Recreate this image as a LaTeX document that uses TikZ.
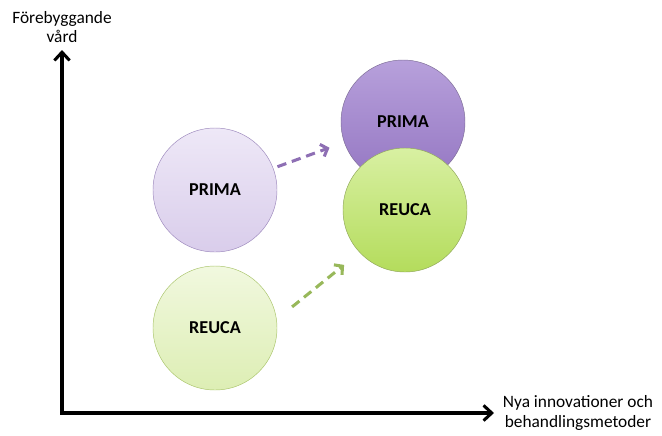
\documentclass[tikz,border=0pt]{standalone}
\usepackage{fontspec}
\setmainfont{Carlito}
\usetikzlibrary{arrows.meta}
\definecolor{primaline}{HTML}{9C88BC}
\definecolor{primalight}{HTML}{EEE8F7}
\definecolor{primamid}{HTML}{D9CDEB}
\definecolor{primadark}{HTML}{9476C2}
\definecolor{primadeep}{HTML}{B7A0DB}
\definecolor{reucaline}{HTML}{A9C46A}
\definecolor{reucalight}{HTML}{F1F8DF}
\definecolor{reucamid}{HTML}{DDEEB4}
\definecolor{reucadark}{HTML}{B4DC5C}
\definecolor{reucadeep}{HTML}{D8F0A2}
\definecolor{primaarrow}{HTML}{8E6FB4}
\definecolor{reucaarrow}{HTML}{98B85A}
\tikzset{
    every node/.style={font=\fontsize{14.8}{16.5}\selectfont}, % Calibri-like text
    bubble/.style={ % Sets the properties for each circle
        circle,
        minimum size=3.72cm,
        inner sep=0pt,
        font=\fontsize{15.5}{17}\selectfont\bfseries
    },
    axis/.style={ % The two axes
        line width=2.6pt,
        -{Straight Barb[length=7pt,width=13pt,line width=2.6pt]}
    },
    move/.style={ % Dashed moves between the circles
        line width=2.6pt,
        dash pattern=on 8pt off 5pt,
        -{Straight Barb[length=5pt,width=11pt,line width=2.6pt]}
    }
}
\begin{document}
\begin{tikzpicture}[x=0.03cm,y=-0.03cm]
        \useasboundingbox (0,0) rectangle (662,435);
        % axlar
        \coordinate (origin) at (62,413);
        \coordinate (ytop)   at (62,50);
        \coordinate (xend)   at (494,413);
        \draw[axis] (origin) -- (ytop);
        \draw[axis] ([xshift=-1.3pt]origin) -- (xend);
        \node[align=center] (ylabel) at (62,27)  {Förebyggande\\vård};
        \node[align=center] (xlabel) at (578,413) {Nya innovationer och\\behandlingsmetoder};
        % cirklar, vänster
        \node[bubble, draw=primaline, top color=primalight, bottom color=primamid]
                                        (prima1) at (215,190) {PRIMA};
        \node[bubble, draw=reucaline, top color=reucalight, bottom color=reucamid]
                                        (reuca1) at (215,328) {REUCA};
        % cirklar, höger
        \node[bubble, draw=primaline!80!black, top color=primadeep, bottom color=primadark]
                                        (prima2) at (403,122) {PRIMA};
        \node[bubble, draw=reucaline!85!black, top color=reucadeep, bottom color=reucadark]
                                        (reuca2) at (405,210) {REUCA};
        % pilar
        \draw[move, primaarrow] (prima1.20) ++(4,-2) -- ++(52,-19);
        \draw[move, reucaarrow] (reuca1.15) ++(17,-5) -- ++(52,-42);
    \end{tikzpicture}
\end{document}
